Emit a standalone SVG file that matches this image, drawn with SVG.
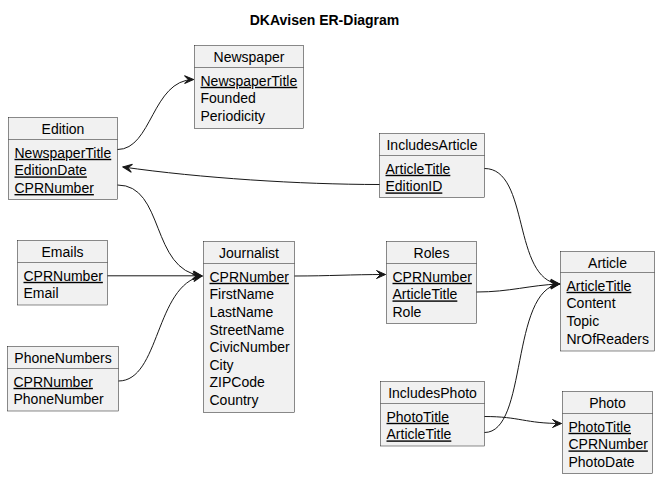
<svg xmlns="http://www.w3.org/2000/svg" width="661" height="480" viewBox="0 0 661 480">
<style>
.box{fill:#F1F1F1;stroke:#181818;stroke-width:0.5}
.div{stroke:#181818;stroke-width:0.5}
.t{font-family:"Liberation Sans",Arial,sans-serif;font-size:14px;fill:#000}
.h{text-anchor:middle}
.u{text-decoration:underline}
.title{font-family:"Liberation Sans",Arial,sans-serif;font-size:14px;font-weight:bold;text-anchor:middle;fill:#000}
.c{fill:none;stroke:#181818;stroke-width:1}
</style>
<defs>
<marker id="ah" viewBox="-10 -5 11 10" refX="0" refY="0" markerWidth="11" markerHeight="10" markerUnits="userSpaceOnUse" orient="auto">
<path d="M0,0 L-9,-4 L-5,0 L-9,4 Z" fill="#181818" stroke="#181818" stroke-width="1" stroke-linejoin="miter"/>
</marker>
</defs>
<rect width="661" height="480" fill="#FFFFFF"/>
<text class="title" x="324.5" y="25">DKAvisen ER-Diagram</text>

<g id="Newspaper">
<rect class="box" x="194.5" y="45.5" width="109" height="83"/>
<line class="div" x1="194.5" y1="67.5" x2="303.5" y2="67.5"/>
<text class="t h" x="249" y="61.5">Newspaper</text>
<text class="t u" x="200.5" y="85.8">NewspaperTitle</text>
<text class="t" x="200.5" y="103.4">Founded</text>
<text class="t" x="200.5" y="121">Periodicity</text>
</g>

<g id="Edition">
<rect class="box" x="8.5" y="117.5" width="109" height="82"/>
<line class="div" x1="8.5" y1="139.5" x2="117.5" y2="139.5"/>
<text class="t h" x="63" y="133.5">Edition</text>
<text class="t u" x="14.5" y="157.8">NewspaperTitle</text>
<text class="t u" x="14.5" y="175.4">EditionDate</text>
<text class="t u" x="14.5" y="193">CPRNumber</text>
</g>

<g id="IncludesArticle">
<rect class="box" x="379.5" y="133.5" width="105" height="64"/>
<line class="div" x1="379.5" y1="155.5" x2="484.5" y2="155.5"/>
<text class="t h" x="432" y="150">IncludesArticle</text>
<text class="t u" x="385.5" y="173.8">ArticleTitle</text>
<text class="t u" x="385.5" y="191.4">EditionID</text>
</g>

<g id="Emails">
<rect class="box" x="17.5" y="240.5" width="90" height="64.5"/>
<line class="div" x1="17.5" y1="262.5" x2="107.5" y2="262.5"/>
<text class="t h" x="62.5" y="257">Emails</text>
<text class="t u" x="23.5" y="280.8">CPRNumber</text>
<text class="t" x="23.5" y="298.4">Email</text>
</g>

<g id="Journalist">
<rect class="box" x="203.5" y="241.5" width="91" height="171"/>
<line class="div" x1="203.5" y1="263.5" x2="294.5" y2="263.5"/>
<text class="t h" x="249" y="258">Journalist</text>
<text class="t u" x="209.5" y="281.8">CPRNumber</text>
<text class="t" x="209.5" y="299.4">FirstName</text>
<text class="t" x="209.5" y="317">LastName</text>
<text class="t" x="209.5" y="334.6">StreetName</text>
<text class="t" x="209.5" y="352.2">CivicNumber</text>
<text class="t" x="209.5" y="369.8">City</text>
<text class="t" x="209.5" y="387.4">ZIPCode</text>
<text class="t" x="209.5" y="405">Country</text>
</g>

<g id="Roles">
<rect class="box" x="386.5" y="241.5" width="90" height="82"/>
<line class="div" x1="386.5" y1="263.5" x2="476.5" y2="263.5"/>
<text class="t h" x="431.5" y="258">Roles</text>
<text class="t u" x="392.5" y="281.8">CPRNumber</text>
<text class="t u" x="392.5" y="299.4">ArticleTitle</text>
<text class="t" x="392.5" y="317">Role</text>
</g>

<g id="Article">
<rect class="box" x="560.5" y="251.5" width="94" height="99.5"/>
<line class="div" x1="560.5" y1="272.5" x2="654.5" y2="272.5"/>
<text class="t h" x="607.5" y="267.5">Article</text>
<text class="t u" x="566.5" y="290.8">ArticleTitle</text>
<text class="t" x="566.5" y="308.4">Content</text>
<text class="t" x="566.5" y="326">Topic</text>
<text class="t" x="566.5" y="343.6">NrOfReaders</text>
</g>

<g id="PhoneNumbers">
<rect class="box" x="7.5" y="346.5" width="111" height="64.5"/>
<line class="div" x1="7.5" y1="368.5" x2="118.5" y2="368.5"/>
<text class="t h" x="63" y="363">PhoneNumbers</text>
<text class="t u" x="13.5" y="386.8">CPRNumber</text>
<text class="t" x="13.5" y="404.4">PhoneNumber</text>
</g>

<g id="IncludesPhoto">
<rect class="box" x="380.5" y="381.5" width="104" height="64.5"/>
<line class="div" x1="380.5" y1="403.5" x2="484.5" y2="403.5"/>
<text class="t h" x="432.5" y="398">IncludesPhoto</text>
<text class="t u" x="386.5" y="421.8">PhotoTitle</text>
<text class="t u" x="386.5" y="439.4">ArticleTitle</text>
</g>

<g id="Photo">
<rect class="box" x="562.5" y="391.5" width="90" height="82"/>
<line class="div" x1="562.5" y1="413.5" x2="652.5" y2="413.5"/>
<text class="t h" x="607.5" y="408">Photo</text>
<text class="t u" x="568.5" y="431.8">PhotoTitle</text>
<text class="t u" x="568.5" y="449.4">CPRNumber</text>
<text class="t" x="568.5" y="467">PhotoDate</text>
</g>

<g id="connectors">
<path class="c" marker-end="url(#ah)" d="M117.5,149.5 C152,149.5 152,80 193.5,79.5"/>
<path class="c" marker-end="url(#ah)" d="M379.5,184.5 C300,184.5 200,178 123,167"/>
<path class="c" marker-end="url(#ah)" d="M117.5,185 C165,185 150,270 202,276"/>
<path class="c" marker-end="url(#ah)" d="M107.5,275.8 L202,275.8"/>
<path class="c" marker-end="url(#ah)" d="M118.5,381 C160,381 155,285 202,276"/>
<path class="c" marker-end="url(#ah)" d="M294.5,276 C330,276 350,274.5 385.5,274.5"/>
<path class="c" marker-end="url(#ah)" d="M476.5,292 C510,292 530,285 559.5,284"/>
<path class="c" marker-end="url(#ah)" d="M484.5,168.5 C530,168.5 512,280 559.5,284"/>
<path class="c" marker-end="url(#ah)" d="M484.5,432.5 C528,432.5 510,290 559.5,284"/>
<path class="c" marker-end="url(#ah)" d="M484.5,416.5 C520,416.5 525,423.5 561.5,423.5"/>
</g>
</svg>
